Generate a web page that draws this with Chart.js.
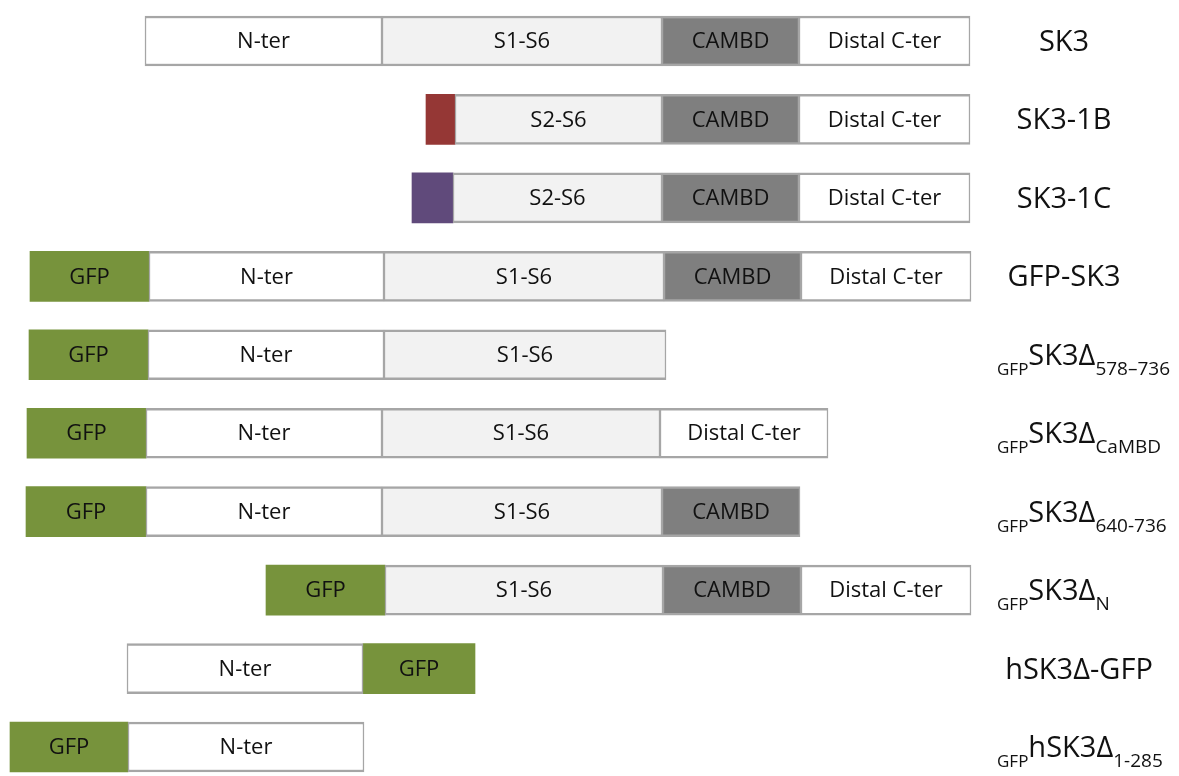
<!DOCTYPE html>
<html>
<head>
<meta charset="utf-8">
<title>SK3 constructs</title>
<script src="https://cdn.jsdelivr.net/npm/chart.js@4/dist/chart.umd.min.js"></script>
<style>
  html, body { margin: 0; padding: 0; background: #ffffff; }
  #wrap { width: 1179px; height: 776px; position: relative; }
</style>
</head>
<body>
<div id="wrap"><canvas id="domains"></canvas></div>
<script>
// ===== Data (domain boundaries, drawing units) =====
const rowNames = ['SK3', 'SK3-1B', 'SK3-1C', 'GFP-SK3', 'GFP SK3Δ578–736',
  'GFP SK3ΔCaMBD', 'GFP SK3Δ640-736', 'GFP SK3ΔN', 'hSK3Δ-GFP', 'GFP hSK3Δ1-285'];

// right-hand labels: subscript prefix, main text, subscript suffix
const labelPre  = ['', '', '', '', 'GFP', 'GFP', 'GFP', 'GFP', '', 'GFP'];
const labelMain = ['SK3', 'SK3-1B', 'SK3-1C', 'GFP-SK3', 'SK3Δ', 'SK3Δ', 'SK3Δ', 'SK3Δ', 'hSK3Δ-GFP', 'hSK3Δ'];
const labelSub  = ['', '', '', '', '578–736', 'CaMBD', '640-736', 'N', '', '1-285'];

const gfp    = [null, null, null, [30, 149], [29, 148], [27, 146], [26, 146], [266, 385], [363, 475], [10, 128]];
const nTer   = [[145, 382], null, null, [149, 384], [148, 384], [146, 382], [146, 382], null, [127, 363], [128, 364]];
const s1s6   = [[382, 662], null, null, [384, 664], [384, 666], [382, 660], [382, 662], [385, 663], null, null];
const s2s6   = [null, [455, 662], [453, 662], null, null, null, null, null, null, null];
const cambd  = [[662, 799], [662, 799], [662, 799], [664, 801], null, null, [662, 800], [663, 801], null, null];
const distal = [[799, 970], [799, 970], [799, 970], [801, 971], null, [660, 828], null, [801, 971], null, null];
const exon1b = [null, [426, 455], null, null, null, null, null, null, null, null];
const exon1c = [null, null, [412, 453], null, null, null, null, null, null, null];

const BORDER = '#a6a6a6';
const FONT = '"Open Sans", "DejaVu Sans", sans-serif';

/**
 * Builds one floating-bar dataset for a domain type.
 */
function makeDomain(label, data, fill, text, bordered) {
  return {
    label: label,
    data: data,
    segText: text,
    backgroundColor: fill,
    borderColor: bordered ? BORDER : fill,
    borderWidth: bordered ? { top: 2.5, bottom: 2.5, left: 1.5, right: 1.5 } : 0,
    borderSkipped: false,
    grouped: false,
    clip: false,
    barThickness: 50
  };
}

/**
 * Writes the domain name in the middle of every segment.
 */
const segmentText = {
  id: 'segmentText',
  afterDatasetsDraw(chart) {
    const ctx = chart.ctx;
    ctx.save();
    ctx.font = '22px ' + FONT;
    ctx.fillStyle = '#111111';
    ctx.textAlign = 'center';
    ctx.textBaseline = 'middle';
    chart.data.datasets.forEach((ds, i) => {
      if (!ds.segText) return;
      const meta = chart.getDatasetMeta(i);
      meta.data.forEach((bar, j) => {
        if (!ds.data[j]) return;
        const p = bar.getProps(['x', 'base', 'y'], true);
        ctx.fillText(ds.segText, (p.x + p.base) / 2, p.y + 1);
      });
    });
    ctx.restore();
  }
};

/**
 * Construct names on the right, with GFP / deletion as subscripts.
 */
const rowLabels = {
  id: 'rowLabels',
  afterDraw(chart) {
    const ctx = chart.ctx;
    const yScale = chart.scales.y;
    ctx.save();
    ctx.fillStyle = '#111111';
    ctx.textBaseline = 'alphabetic';
    rowNames.forEach((name, i) => {
      const y = yScale.getPixelForValue(i);
      const base = y + 10;
      const mainFont = '29px ' + FONT;
      if (!labelPre[i] && !labelSub[i]) {
        ctx.font = mainFont;
        ctx.textAlign = 'center';
        const cx = labelMain[i].length > 8 ? 1079 : 1064;
        ctx.fillText(labelMain[i], cx, base);
        return;
      }
      ctx.textAlign = 'left';
      let x = labelPre[i] ? 997 : 1008;
      if (labelPre[i]) {
        ctx.font = '17px ' + FONT;
        ctx.fillText(labelPre[i], x, base + 10);
        x += ctx.measureText(labelPre[i]).width;
      }
      ctx.font = mainFont;
      ctx.fillText(labelMain[i], x, base);
      x += ctx.measureText(labelMain[i]).width;
      if (labelSub[i]) {
        ctx.font = '19px ' + FONT;
        ctx.fillText(labelSub[i], x, base + 10);
      }
    });
    ctx.restore();
  }
};

new Chart(document.getElementById('domains'), {
  type: 'bar',
  data: {
    labels: rowNames,
    datasets: [
      makeDomain('N-ter', nTer, '#ffffff', 'N-ter', true),
      makeDomain('S1-S6', s1s6, '#f2f2f2', 'S1-S6', true),
      makeDomain('S2-S6', s2s6, '#f2f2f2', 'S2-S6', true),
      makeDomain('CAMBD', cambd, '#7f7f7f', 'CAMBD', true),
      makeDomain('Distal C-ter', distal, '#ffffff', 'Distal C-ter', true),
      makeDomain('exon 1B', exon1b, '#953735', '', false),
      makeDomain('exon 1C', exon1c, '#604a7b', '', false),
      makeDomain('GFP', gfp, '#77933c', 'GFP', false)
    ]
  },
  options: {
    indexAxis: 'y',
    responsive: true,
    maintainAspectRatio: false,
    animation: false,
    layout: { padding: { top: 41, bottom: 29, left: 0, right: 0 } },
    plugins: {
      legend: { display: false },
      tooltip: { enabled: false },
      title: { display: false }
    },
    scales: {
      x: { type: 'linear', min: 0, max: 1179, display: false },
      y: { type: 'category', offset: false, display: false }
    }
  },
  plugins: [segmentText, rowLabels]
});
</script>
</body>
</html>
